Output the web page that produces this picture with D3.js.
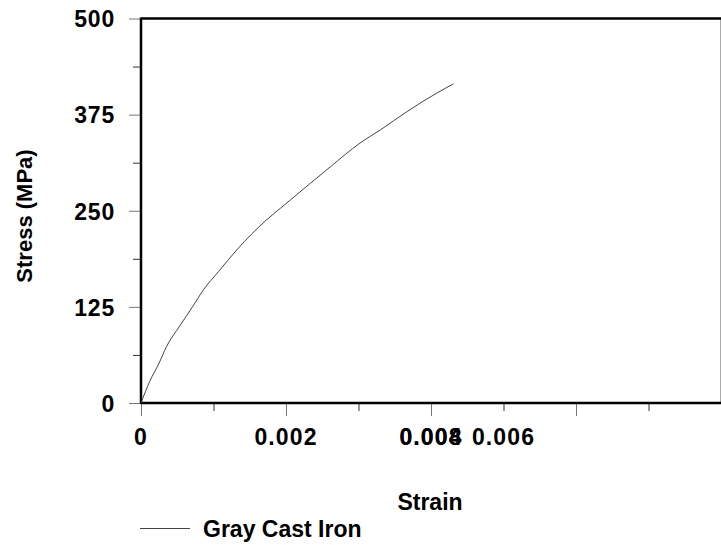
<!DOCTYPE html>
<html>
<head>
<meta charset="utf-8">
<script src="https://cdn.jsdelivr.net/npm/d3@7"></script>
<style>
  body { margin: 0; background: #fff; }
  svg text { font-family: "Liberation Sans", Arial, sans-serif; fill: #000; font-weight: bold; }
</style>
</head>
<body>
<svg id="chart" width="721" height="545"></svg>
<script>
// strain (mm/mm) and stress (MPa)
const strain = [0, 0.00012, 0.00025, 0.00035, 0.00054, 0.00071, 0.00086, 0.00107, 0.00132,
  0.00173, 0.00192, 0.00206, 0.00261, 0.00302, 0.0033, 0.00367, 0.00408, 0.00431];
const stress = [0, 28, 52, 73, 101, 125, 147, 171, 199,
  238, 253, 264, 307, 338, 355, 379, 403, 415];
const seriesName = "Gray Cast Iron";

const yTicks = [0, 125, 250, 375, 500];
const yMinorTicks = [62.5, 187.5, 312.5, 437.5];
const xMajorTicks = [0, 0.002, 0.004, 0.006];
const xMinorTicks = [0.001, 0.003, 0.005, 0.007];
// tick labels as printed in the source (two of them land on the same spot)
const xLabelPos = [0, 0.002, 0.004, 0.004, 0.005];
const xLabelText = ["0", "0.002", "0.004", "0.008", "0.006"];

const svg = d3.select("#chart");
const plotLeft = 141, plotRight = 721, plotTop = 18.5, plotBottom = 403;

const x = d3.scaleLinear().domain([0, 0.008]).range([plotLeft, plotRight]);
const y = d3.scaleLinear().domain([0, 500]).range([plotBottom, plotTop]);

// right border (thin grey) and top border
svg.append("line")
  .attr("x1", 720.5).attr("x2", 720.5).attr("y1", plotTop).attr("y2", plotBottom)
  .attr("stroke", "#aaa").attr("stroke-width", 1);
svg.append("line")
  .attr("x1", plotLeft).attr("x2", plotRight).attr("y1", plotTop).attr("y2", plotTop)
  .attr("stroke", "#000").attr("stroke-width", 2.5);

// y axis ticks
const yAxis = svg.append("g").attr("transform", "translate(" + plotLeft + ",0)")
  .call(d3.axisLeft(y).tickValues(yTicks).tickSize(12).tickFormat(d3.format("d")));
yAxis.select(".domain").remove();
yAxis.selectAll(".tick line").attr("stroke", "#777");
yAxis.selectAll(".tick text")
  .attr("x", -26).attr("dy", "0.36em")
  .style("font-size", "23px").style("letter-spacing", "0.8px");

const yMinor = svg.append("g").attr("transform", "translate(" + plotLeft + ",0)")
  .call(d3.axisLeft(y).tickValues(yMinorTicks).tickSize(8).tickFormat(""));
yMinor.select(".domain").remove();
yMinor.selectAll(".tick line").attr("stroke", "#333");

// x axis ticks
const xAxis = svg.append("g").attr("transform", "translate(0," + plotBottom + ")")
  .call(d3.axisBottom(x).tickValues(xMajorTicks).tickSize(13).tickFormat(""));
xAxis.select(".domain").remove();
xAxis.selectAll(".tick line").attr("stroke", "#777");

const xMinor = svg.append("g").attr("transform", "translate(0," + plotBottom + ")")
  .call(d3.axisBottom(x).tickValues(xMinorTicks).tickSize(8).tickFormat(""));
xMinor.select(".domain").remove();
xMinor.selectAll(".tick line").attr("stroke", "#333");

svg.append("g").selectAll("text")
  .data(xLabelPos)
  .enter().append("text")
  .attr("x", d => x(d))
  .attr("y", 445)
  .attr("text-anchor", "middle")
  .style("font-size", "23px").style("letter-spacing", "1.1px")
  .text((d, i) => xLabelText[i]);

// main axis lines
svg.append("line")
  .attr("x1", plotLeft).attr("x2", plotLeft).attr("y1", plotTop - 1).attr("y2", plotBottom + 1)
  .attr("stroke", "#000").attr("stroke-width", 2.5);
svg.append("line")
  .attr("x1", plotLeft).attr("x2", plotRight).attr("y1", plotBottom).attr("y2", plotBottom)
  .attr("stroke", "#000").attr("stroke-width", 2.5);

// curve
const pts = strain.map((s, i) => [s, stress[i]]);
svg.append("path")
  .datum(pts)
  .attr("fill", "none")
  .attr("stroke", "#444")
  .attr("stroke-width", 1)
  .attr("d", d3.line().x(d => x(d[0])).y(d => y(d[1])).curve(d3.curveMonotoneX));

// axis titles
svg.append("text")
  .attr("transform", "translate(32,216) rotate(-90)")
  .attr("text-anchor", "middle")
  .style("font-size", "22px")
  .text("Stress (MPa)");
svg.append("text")
  .attr("x", 430).attr("y", 510)
  .attr("text-anchor", "middle")
  .style("font-size", "23px")
  .text("Strain");

// legend
svg.append("line")
  .attr("x1", 140).attr("x2", 190).attr("y1", 528.5).attr("y2", 528.5)
  .attr("stroke", "#444").attr("stroke-width", 1);
svg.append("text")
  .attr("x", 203).attr("y", 537)
  .style("font-size", "23px")
  .text(seriesName);
</script>
</body>
</html>
